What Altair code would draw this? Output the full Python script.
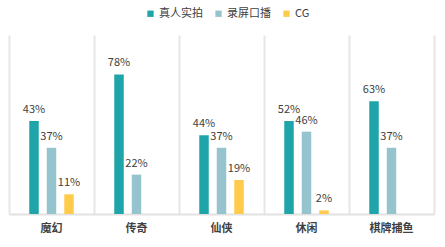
import altair as alt
import pandas as pd

categories = ["魔幻", "传奇", "仙侠", "休闲", "棋牌捕鱼"]
series = ["真人实拍", "录屏口播", "CG"]
# bar heights as drawn in the picture
real = [52, 78, 44, 52, 63]
screen = [37, 22, 37, 46, 37]
cg = [11, None, 19, 2, None]
# labels as printed in the picture
real_labels = ["43%", "78%", "44%", "52%", "63%"]
screen_labels = ["37%", "22%", "37%", "46%", "37%"]
cg_labels = ["11%", None, "19%", "2%", None]
colors = ["#1FA5A9", "#95C4CF", "#FFCB4C"]

rows = []
for i, c in enumerate(categories):
    for s, vals, labs in zip(series, [real, screen, cg],
                             [real_labels, screen_labels, cg_labels]):
        v = vals[i]
        if v is not None:
            rows.append({"cat": c, "series": s, "value": v, "label": labs[i]})
df = pd.DataFrame(rows)

FONT = "Noto Sans CJK SC"

x = alt.X("cat:N", sort=categories, title=None,
          scale=alt.Scale(paddingInner=0, paddingOuter=0),
          axis=alt.Axis(labelAngle=0, labelFontSize=11, labelFontWeight="bold",
                        labelColor="#404040", labelPadding=8, ticks=False,
                        domainColor="#E2E2E2", domainWidth=2,
                        grid=True, gridColor="#E6E6E6", gridWidth=2,
                        bandPosition=0, labelFont=FONT))
xo = alt.XOffset("series:N", sort=series,
                 scale=alt.Scale(domain=series, paddingInner=0.46, paddingOuter=0.0,
                                 range=[20.28, 64.72]))
y = alt.Y("value:Q", scale=alt.Scale(domain=[0, 100]), title=None,
          axis=alt.Axis(orient="right", labels=False, ticks=False, grid=False,
                        domainColor="#E6E6E6", domainWidth=2))

base = alt.Chart(df).encode(x=x, xOffset=xo, y=y)

bars = base.mark_bar(size=9.5).encode(
    color=alt.Color("series:N", sort=series,
                    scale=alt.Scale(domain=series, range=colors),
                    legend=alt.Legend(title=None, orient="none", direction="horizontal",
                                      legendX=136, legendY=-27, symbolType="square",
                                      symbolSize=40, symbolStrokeWidth=0,
                                      labelFontSize=11, labelColor="#404040",
                                      labelFont=FONT, columnPadding=10, labelOffset=3))
)

texts = base.mark_text(baseline="bottom", dy=-6, fontSize=11, color="#404040",
                       font=FONT).encode(text="label:N")

chart = (bars + texts).properties(
    width=425, height=179,
    autosize=alt.AutoSizeParams(type="none"),
    padding={"left": 9, "top": 35, "right": 11, "bottom": 33},
    background="white",
).configure_view(stroke=None)

chart.save("out.html", embed_options={"renderer": "svg", "actions": False})
